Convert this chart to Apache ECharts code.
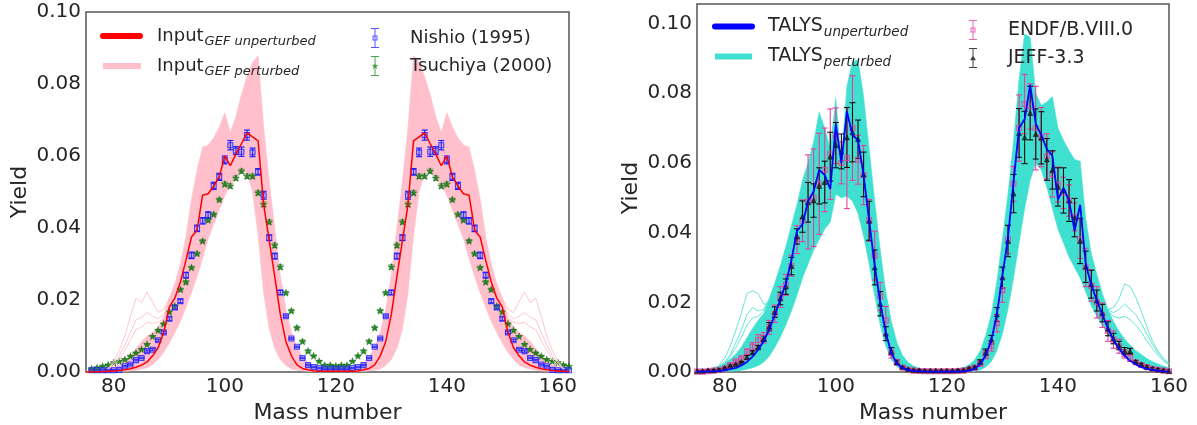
<!DOCTYPE html>
<html>
<head>
<meta charset="utf-8">
<script src="https://cdn.jsdelivr.net/npm/echarts@6.0.0/dist/echarts.min.js"></script>
<style>
html,body{margin:0;padding:0;background:#ffffff;}
#chart{width:1197px;height:425px;}
</style>
</head>
<body>
<div id="chart"></div>
<script>
// ===================== LEFT PANEL : GEF input vs experiments =====================
const massLeft = [75,76,77,78,79,80,81,82,83,84,85,86,87,88,89,90,91,92,93,94,95,96,97,98,99,100,101,102,103,104,105,106,107,108,109,110,111,112,113,114,115,116,117,118,119,120,121,122,123,124,125,126,127,128,129,130,131,132,133,134,135,136,137,138,139,140,141,142,143,144,145,146,147,148,149,150,151,152,153,154,155,156,157,158,159,160,161,162];

const gefUnperturbed = [
 0.0000,0.0000,0.0001,0.0001,0.0002,0.0003,0.0004,0.0006,0.0009,0.0013,
 0.0019,0.0028,0.0045,0.0068,0.0110,0.0180,0.0205,0.0250,0.0310,0.0375,
 0.0394,0.0491,0.0495,0.0516,0.0542,0.0600,0.0573,0.0605,0.0634,0.0664,
 0.0653,0.0642,0.0465,0.0365,0.0265,0.0160,0.0085,0.0045,0.0020,0.0010,
 0.0006,0.0003,0.0002,0.0002,0.0002,0.0002,
 0.0002,0.0002,0.0002,0.0003,0.0006,0.0010,0.0020,0.0045,0.0085,0.0160,
 0.0265,0.0365,0.0465,0.0642,0.0653,0.0664,0.0634,0.0605,0.0573,0.0600,
 0.0542,0.0516,0.0495,0.0491,0.0394,0.0375,0.0310,0.0250,0.0205,0.0180,
 0.0110,0.0068,0.0045,0.0028,0.0019,0.0013,0.0009,0.0006,0.0004,0.0003,
 0.0002,0.0001];

const gefBandUpper = [
 0.0002,0.0003,0.0005,0.0008,0.0011,0.0015,0.0020,0.0030,0.0045,0.0065,
 0.0085,0.0100,0.0110,0.0125,0.0150,0.0205,0.0245,0.0300,0.0375,0.0480,
 0.0560,0.0625,0.0630,0.0650,0.0680,0.0720,0.0665,0.0710,0.0770,0.0820,
 0.0860,0.0878,0.0680,0.0530,0.0400,0.0270,0.0175,0.0110,0.0068,0.0042,
 0.0026,0.0017,0.0012,0.0010,0.0009,0.0009,
 0.0009,0.0010,0.0012,0.0017,0.0026,0.0042,0.0068,0.0110,0.0175,0.0270,
 0.0400,0.0530,0.0680,0.0878,0.0860,0.0820,0.0770,0.0710,0.0665,0.0720,
 0.0680,0.0650,0.0630,0.0625,0.0560,0.0480,0.0375,0.0300,0.0245,0.0205,
 0.0150,0.0125,0.0110,0.0100,0.0085,0.0065,0.0045,0.0030,0.0020,0.0015,
 0.0011,0.0008];

const gefBandLower = [
 0.0000,0.0000,0.0000,0.0000,0.0000,0.0001,0.0001,0.0002,0.0003,0.0005,
 0.0008,0.0012,0.0020,0.0035,0.0055,0.0080,0.0110,0.0140,0.0180,0.0220,
 0.0265,0.0315,0.0370,0.0410,0.0450,0.0490,0.0520,0.0540,0.0555,0.0555,
 0.0500,0.0380,0.0220,0.0120,0.0065,0.0035,0.0018,0.0009,0.0005,0.0003,
 0.0002,0.0001,0.0001,0.0001,0.0001,0.0001,
 0.0001,0.0001,0.0001,0.0001,0.0002,0.0003,0.0005,0.0009,0.0018,0.0035,
 0.0065,0.0120,0.0220,0.0380,0.0500,0.0555,0.0555,0.0540,0.0520,0.0490,
 0.0450,0.0410,0.0370,0.0315,0.0265,0.0220,0.0180,0.0140,0.0110,0.0080,
 0.0055,0.0035,0.0020,0.0012,0.0008,0.0005,0.0003,0.0002,0.0001,0.0001,
 0.0000,0.0000];

const nishioYield = [
 null,  0.0005,0.0005,0.0005,0.0005,0.0005,0.0006,0.0016,0.0021,0.0033,
 0.0039,0.0058,0.0062,0.0088,0.0110,0.0148,0.0179,0.0197,0.0269,0.0324,
 0.0399,0.0420,0.0436,0.0517,0.0542,0.0589,0.0630,0.0615,0.0612,0.0658,
 0.0610,0.0556,0.0491,0.0373,0.0322,0.0221,0.0155,0.0093,0.0070,0.0039,
 0.0019,0.0014,0.0011,0.0009,0.0009,0.0009,
 0.0009,0.0009,0.0011,0.0014,0.0019,0.0039,0.0070,0.0093,0.0155,0.0221,
 0.0322,0.0373,0.0491,0.0556,0.0610,0.0658,0.0612,0.0615,0.0630,0.0589,
 0.0542,0.0517,0.0436,0.0420,0.0399,0.0324,0.0269,0.0197,0.0179,0.0148,
 0.0110,0.0088,0.0062,0.0058,0.0039,0.0033,0.0021,0.0016,0.0006,0.0005,
 0.0005,0.0005];

const nishioErr = [
 null,  0.0002,0.0002,0.0002,0.0002,0.0002,0.0002,0.0002,0.0002,0.0002,
 0.0002,0.0003,0.0003,0.0003,0.0003,0.0005,0.0005,0.0005,0.0008,0.0009,
 0.0009,0.0009,0.0009,0.0010,0.0010,0.0011,0.0013,0.0011,0.0013,0.0014,
 0.0012,0.0009,0.0011,0.0008,0.0008,0.0006,0.0003,0.0002,0.0002,0.0002,
 0.0002,0.0002,0.0002,0.0002,0.0002,0.0002,
 0.0002,0.0002,0.0002,0.0002,0.0002,0.0002,0.0002,0.0002,0.0003,0.0006,
 0.0008,0.0008,0.0011,0.0009,0.0012,0.0014,0.0013,0.0011,0.0013,0.0011,
 0.0010,0.0010,0.0009,0.0009,0.0009,0.0009,0.0008,0.0005,0.0005,0.0005,
 0.0003,0.0003,0.0003,0.0003,0.0002,0.0002,0.0002,0.0002,0.0002,0.0002,
 0.0002,0.0002];

const tsuchiyaYield = [
 null,  0.0009,0.0012,0.0016,0.0020,0.0026,0.0030,0.0035,0.0044,0.0053,
 0.0063,0.0077,0.0099,0.0116,0.0134,0.0167,0.0183,0.0229,0.0250,0.0290,
 0.0329,0.0364,0.0422,0.0438,0.0479,0.0522,0.0517,0.0539,0.0558,0.0544,
 0.0544,0.0498,0.0466,0.0417,0.0352,0.0292,0.0220,0.0170,0.0123,0.0085,
 0.0058,0.0045,0.0030,0.0019,0.0019,0.0017,
 0.0019,0.0019,0.0030,0.0045,0.0058,0.0085,0.0123,0.0170,0.0220,0.0292,
 0.0352,0.0417,0.0466,0.0498,0.0544,0.0544,0.0558,0.0539,0.0517,0.0522,
 0.0479,0.0438,0.0422,0.0364,0.0329,0.0290,0.0250,0.0229,0.0183,0.0167,
 0.0134,0.0116,0.0099,0.0077,0.0063,0.0053,0.0044,0.0035,0.0030,0.0026,
 0.0020,0.0016];

const tsuchiyaErr = [
 null,  0.0002,0.0002,0.0002,0.0002,0.0002,0.0002,0.0002,0.0002,0.0002,
 0.0002,0.0002,0.0002,0.0002,0.0002,0.0004,0.0004,0.0004,0.0004,0.0004,
 0.0004,0.0004,0.0004,0.0004,0.0004,0.0006,0.0006,0.0006,0.0006,0.0006,
 0.0006,0.0006,0.0006,0.0006,0.0006,0.0006,0.0004,0.0004,0.0004,0.0004,
 0.0004,0.0002,0.0002,0.0002,0.0002,0.0002,
 0.0002,0.0002,0.0002,0.0002,0.0004,0.0004,0.0004,0.0004,0.0004,0.0006,
 0.0006,0.0006,0.0006,0.0006,0.0006,0.0006,0.0006,0.0006,0.0006,0.0006,
 0.0004,0.0004,0.0004,0.0004,0.0004,0.0004,0.0004,0.0004,0.0004,0.0004,
 0.0002,0.0002,0.0002,0.0002,0.0002,0.0002,0.0002,0.0002,0.0002,0.0002,
 0.0002,0.0002];

// a few isolated perturbed GEF curves that stand out of the band in the tails
const gefOutlierMassA = [79,80,81,82,83,84,85,86,87,88,89,90];
const gefOutlierA1 = [0.0010,0.0030,0.0060,0.0100,0.0155,0.0205,0.0193,0.0222,0.0195,0.0165,0.0175,0.0205];
const gefOutlierA2 = [0.0008,0.0025,0.0045,0.0075,0.0110,0.0145,0.0152,0.0165,0.0155,0.0148,0.0160,0.0200];
const gefOutlierA3 = [0.0008,0.0020,0.0035,0.0060,0.0088,0.0118,0.0125,0.0138,0.0135,0.0138,0.0150,0.0195];
const gefOutlierMassB = [150,151,152,153,154,155,156,157,158,159,160,161];
const gefOutlierB1 = [0.0205,0.0175,0.0165,0.0195,0.0222,0.0193,0.0205,0.0155,0.0100,0.0060,0.0030,0.0010];
const gefOutlierB2 = [0.0200,0.0160,0.0148,0.0155,0.0165,0.0152,0.0145,0.0110,0.0075,0.0045,0.0025,0.0008];
const gefOutlierB3 = [0.0195,0.0150,0.0138,0.0135,0.0138,0.0125,0.0118,0.0088,0.0060,0.0035,0.0020,0.0008];

// ===================== RIGHT PANEL : TALYS vs evaluations =====================
const massRight = [75,76,77,78,79,80,81,82,83,84,85,86,87,88,89,90,91,92,93,94,95,96,97,98,99,100,101,102,103,104,105,106,107,108,109,110,111,112,113,114,115,116,117,118,119,120,121,122,123,124,125,126,127,128,129,130,131,132,133,134,135,136,137,138,139,140,141,142,143,144,145,146,147,148,149,150,151,152,153,154,155,156,157,158,159,160];

const talysUnperturbed = [
 0.0001,0.0001,0.0002,0.0002,0.0003,0.0005,0.0008,0.0012,0.0019,0.0029,
 0.0044,0.0063,0.0088,0.0122,0.0163,0.0208,0.0254,0.0320,0.0405,0.0424,
 0.0490,0.0518,0.0580,0.0565,0.0525,0.0710,0.0600,0.0748,0.0680,0.0665,
 0.0565,0.0435,0.0305,0.0200,0.0112,0.0055,0.0024,0.0012,0.0006,0.0003,
 0.0002,0.0002,0.0001,0.0001,0.0001,0.0001,0.0001,0.0002,0.0002,0.0004,
 0.0009,0.0022,0.0048,0.0090,0.0165,0.0275,0.0385,0.0545,0.0700,0.0725,
 0.0824,0.0712,0.0680,0.0640,0.0620,0.0495,0.0528,0.0492,0.0405,0.0480,
 0.0310,0.0250,0.0205,0.0165,0.0125,0.0092,0.0067,0.0047,0.0032,0.0022,
 0.0014,0.0009,0.0006,0.0004,0.0002,0.0001];

const talysBandUpper = [
 0.0003,0.0005,0.0008,0.0012,0.0018,0.0026,0.0037,0.0052,0.0072,0.0098,
 0.0125,0.0148,0.0168,0.0205,0.0255,0.0305,0.0360,0.0420,0.0480,0.0550,
 0.0600,0.0660,0.0745,0.0700,0.0640,0.0785,0.0600,0.0820,0.0890,0.0895,
 0.0790,0.0640,0.0490,0.0350,0.0230,0.0145,0.0085,0.0048,0.0028,0.0017,
 0.0011,0.0008,0.0007,0.0006,0.0006,0.0006,0.0007,0.0009,0.0013,0.0020,
 0.0035,0.0060,0.0105,0.0165,0.0260,0.0380,0.0510,0.0660,0.0840,0.0970,
 0.0960,0.0800,0.0765,0.0775,0.0790,0.0700,0.0665,0.0635,0.0610,0.0605,
 0.0440,0.0340,0.0280,0.0225,0.0180,0.0145,0.0118,0.0095,0.0077,0.0062,
 0.0050,0.0039,0.0030,0.0023,0.0017,0.0012];

const talysBandLower = [
 0.0000,0.0000,0.0000,0.0000,0.0001,0.0001,0.0002,0.0003,0.0005,0.0008,
 0.0012,0.0018,0.0028,0.0045,0.0070,0.0100,0.0135,0.0175,0.0220,0.0270,
 0.0310,0.0350,0.0380,0.0410,0.0430,0.0510,0.0500,0.0505,0.0490,0.0455,
 0.0390,0.0310,0.0220,0.0135,0.0075,0.0035,0.0015,0.0006,0.0002,0.0001,
 0.0001,0.0001,0.0001,0.0001,0.0001,0.0001,0.0001,0.0001,0.0001,0.0001,
 0.0002,0.0006,0.0014,0.0030,0.0060,0.0110,0.0180,0.0270,0.0370,0.0470,
 0.0550,0.0600,0.0580,0.0530,0.0470,0.0410,0.0370,0.0330,0.0300,0.0270,
 0.0230,0.0190,0.0160,0.0133,0.0110,0.0085,0.0065,0.0048,0.0036,0.0026,
 0.0018,0.0012,0.0008,0.0005,0.0003,0.0002];

const endfYield = [
 0.0001,0.0001,0.0002,0.0004,0.0006,0.0010,0.0020,0.0031,0.0040,0.0058,
 0.0072,0.0092,0.0098,0.0128,0.0167,0.0215,0.0250,0.0305,0.0380,0.0434,
 0.0488,0.0500,0.0540,0.0580,0.0625,0.0678,0.0600,0.0614,0.0700,0.0609,
 0.0565,0.0435,0.0334,0.0217,0.0148,0.0055,0.0028,0.0013,0.0007,0.0004,
 0.0003,0.0002,0.0002,0.0002,0.0002,0.0002,0.0002,0.0003,0.0004,0.0007,
 0.0012,0.0024,0.0050,0.0075,0.0140,0.0235,0.0380,0.0540,0.0700,0.0769,
 0.0762,0.0700,0.0674,0.0619,0.0567,0.0538,0.0514,0.0492,0.0445,0.0381,
 0.0300,0.0248,0.0200,0.0163,0.0118,0.0093,0.0074,0.0052,0.0040,0.0028,
 0.0020,0.0014,0.0009,0.0006,0.0004,0.0002];

const endfErr = [
 0.0003,0.0003,0.0003,0.0003,0.0003,0.0003,0.0003,0.0003,0.0003,0.0008,
 0.0012,0.0015,0.0015,0.0020,0.0025,0.0030,0.0030,0.0030,0.0040,0.0060,
 0.0135,0.0140,0.0145,0.0120,0.0130,0.0080,0.0060,0.0145,0.0150,0.0070,
 0.0085,0.0060,0.0070,0.0040,0.0040,0.0015,0.0008,0.0002,0.0002,0.0002,
 0.0002,0.0002,0.0002,0.0002,0.0002,0.0002,0.0002,0.0002,0.0002,0.0002,
 0.0004,0.0008,0.0012,0.0015,0.0025,0.0035,0.0040,0.0050,0.0095,0.0085,
 0.0065,0.0120,0.0085,0.0065,0.0065,0.0050,0.0045,0.0045,0.0040,0.0055,
 0.0055,0.0045,0.0045,0.0035,0.0030,0.0025,0.0020,0.0012,0.0010,0.0004,
 0.0004,0.0004,0.0004,0.0004,0.0004,0.0004];

const jeffYield = [
 0.0003,0.0003,0.0005,0.0005,0.0007,0.0012,0.0018,0.0022,0.0028,0.0042,
 0.0056,0.0071,0.0096,0.0130,0.0172,0.0211,0.0245,0.0304,0.0389,0.0446,
 0.0487,0.0492,0.0534,0.0545,0.0618,0.0651,0.0633,0.0673,0.0688,0.0668,
 0.0567,0.0434,0.0300,0.0196,0.0110,0.0060,0.0028,0.0014,0.0008,0.0006,
 0.0005,0.0004,0.0004,0.0004,0.0004,0.0004,0.0004,0.0005,0.0006,0.0011,
 0.0014,0.0029,0.0057,0.0093,0.0165,0.0271,0.0376,0.0512,0.0686,0.0673,
 0.0743,0.0683,0.0672,0.0610,0.0580,0.0531,0.0521,0.0492,0.0443,0.0376,
 0.0302,0.0252,0.0205,0.0169,0.0124,0.0096,0.0076,0.0060,0.0060,0.0030,
 0.0022,0.0015,0.0010,0.0007,0.0005,0.0003];

const jeffErr = [
 0.0002,0.0002,0.0002,0.0002,0.0002,0.0002,0.0002,0.0002,0.0002,0.0005,
 0.0005,0.0005,0.0008,0.0012,0.0015,0.0018,0.0022,0.0025,0.0022,0.0045,
 0.0057,0.0048,0.0052,0.0060,0.0070,0.0065,0.0050,0.0086,0.0085,0.0055,
 0.0064,0.0056,0.0050,0.0035,0.0020,0.0010,0.0006,0.0002,0.0002,0.0002,
 0.0002,0.0002,0.0002,0.0002,0.0002,0.0002,0.0002,0.0002,0.0002,0.0002,
 0.0003,0.0006,0.0009,0.0012,0.0020,0.0030,0.0045,0.0055,0.0070,0.0075,
 0.0077,0.0072,0.0075,0.0060,0.0055,0.0055,0.0065,0.0060,0.0055,0.0065,
 0.0045,0.0040,0.0030,0.0025,0.0020,0.0015,0.0012,0.0010,0.0008,0.0003,
 0.0003,0.0003,0.0003,0.0003,0.0003,0.0003];

const talysOutlierMassA = [79,80,81,82,83,84,85,86,87,88,89];
const talysOutlierA1 = [0.0020,0.0040,0.0075,0.0120,0.0170,0.0225,0.0233,0.0225,0.0195,0.0195,0.0240];
const talysOutlierA2 = [0.0015,0.0030,0.0050,0.0085,0.0120,0.0165,0.0185,0.0175,0.0180,0.0210,0.0250];
const talysOutlierA3 = [0.0012,0.0025,0.0045,0.0070,0.0100,0.0135,0.0155,0.0160,0.0175,0.0205,0.0250];
const talysOutlierMassB = [149,150,151,152,153,154,155,156,157,158,159,160];
const talysOutlierB1 = [0.0180,0.0185,0.0210,0.0253,0.0245,0.0215,0.0175,0.0130,0.0090,0.0060,0.0040,0.0025];
const talysOutlierB2 = [0.0180,0.0170,0.0180,0.0195,0.0180,0.0165,0.0140,0.0110,0.0080,0.0055,0.0035,0.0022];
const talysOutlierB3 = [0.0175,0.0160,0.0155,0.0160,0.0150,0.0135,0.0115,0.0090,0.0068,0.0048,0.0032,0.0020];

const yTicks = [0.00, 0.02, 0.04, 0.06, 0.08, 0.10];
const xTicks = [80, 100, 120, 140, 160];

// ===================== helpers =====================
const FONT = 'DejaVu Sans';
const TXT = '#262626';
const PINK = '#ffc0cb';
const CYAN = '#40e0d0';
const STAR = 'path://M0,-10L2.35,-3.24L9.51,-3.09L3.8,1.24L5.88,8.09L0,4L-5.88,8.09L-3.8,1.24L-9.51,-3.09L-2.35,-3.24Z';
const ICON_LINE_ROUND = 'path://M3,0H40A3,3 0 0 1 40,6H3A3,3 0 0 1 3,0Z';
const ICON_ERR_SQUARE = 'path://M0,0H8V1H0ZM3.5,1H4.5V19H3.5ZM0,19H8V20H0ZM1.5,7.5H6.5V12.5H1.5ZM2.5,8.5V11.5H5.5V8.5Z';
const ICON_ERR_STAR = 'path://M0,0H8V1H0ZM3.5,1H4.5V19H3.5ZM0,19H8V20H0ZM4,6.4L4.85,8.83L7.42,8.89L5.38,10.45L6.12,12.91L4,11.45L1.88,12.91L2.62,10.45L0.58,8.89L3.15,8.83Z';
const ICON_ERR_TRI = 'path://M0,0H8V1H0ZM3.5,1H4.5V19H3.5ZM0,19H8V20H0ZM4,7.2L6.9,12.3H1.1Z';

function pairs(xs, ys) {
  const out = [];
  for (let i = 0; i < xs.length; i++) if (ys[i] != null) out.push([xs[i], ys[i]]);
  return out;
}

function bandSeries(name, k, xs, lo, hi, color) {
  return {
    name, type: 'custom', xAxisIndex: k, yAxisIndex: k, clip: true, silent: true,
    itemStyle: { color },
    data: xs.map((x, i) => [x, lo[i], hi[i]]),
    encode: { x: 0, y: [1, 2] },
    renderItem(params, api) {
      if (params.dataIndex !== 0) return null;
      const pts = [];
      for (let i = 0; i < xs.length; i++) pts.push(api.coord([xs[i], hi[i]]));
      for (let i = xs.length - 1; i >= 0; i--) pts.push(api.coord([xs[i], lo[i]]));
      return { type: 'polygon', shape: { points: pts }, style: { fill: color, stroke: color, lineWidth: 0.6 } };
    }
  };
}

function errorSeries(name, k, xs, ys, es, color, cap, lw) {
  const data = [];
  for (let i = 0; i < xs.length; i++) if (ys[i] != null) data.push([xs[i], ys[i] - es[i], ys[i] + es[i]]);
  return {
    name, type: 'custom', xAxisIndex: k, yAxisIndex: k, clip: true, silent: true, data,
    encode: { x: 0, y: [1, 2] },
    renderItem(params, api) {
      const x = api.value(0);
      const a = api.coord([x, api.value(1)]);
      const b = api.coord([x, api.value(2)]);
      const st = { stroke: color, lineWidth: lw };
      return { type: 'group', children: [
        { type: 'line', shape: { x1: a[0], y1: a[1], x2: b[0], y2: b[1] }, style: st },
        { type: 'line', shape: { x1: a[0] - cap, y1: a[1], x2: a[0] + cap, y2: a[1] }, style: st },
        { type: 'line', shape: { x1: b[0] - cap, y1: b[1], x2: b[0] + cap, y2: b[1] }, style: st }
      ]};
    }
  };
}

function thinLine(name, k, xs, ys, color, w, op) {
  return { name, type: 'line', xAxisIndex: k, yAxisIndex: k, data: pairs(xs, ys), showSymbol: false, symbol: 'none',
    silent: true, clip: true, lineStyle: { color, width: w, opacity: op }, itemStyle: { color } };
}

function legendOne(name, left, top, icon, w, h, color, fmt, rich) {
  return {
    show: true, data: [{ name, icon }], left, top, orient: 'vertical', padding: 0,
    itemWidth: w, itemHeight: h, selectedMode: false,
    itemStyle: { color, borderWidth: 0 },
    formatter: fmt,
    textStyle: { color: TXT, fontFamily: FONT, rich }
  };
}

function xAxis(k, max) {
  return {
    type: 'value', gridIndex: k, min: 75, max, interval: 5,
    name: 'Mass number', nameLocation: 'middle', nameGap: 22,
    nameTextStyle: { fontFamily: FONT, fontSize: 22, color: TXT },
    axisLine: { show: false }, axisTick: { show: false }, splitLine: { show: false },
    axisLabel: {
      fontFamily: FONT, fontSize: 20, color: TXT, margin: 5,
      formatter: v => (xTicks.indexOf(Math.round(v)) >= 0 && Math.abs(v - Math.round(v)) < 1e-6) ? String(Math.round(v)) : ''
    }
  };
}

function yAxis(k, max) {
  return {
    type: 'value', gridIndex: k, min: 0, max, interval: 0.02,
    name: 'Yield', nameLocation: 'middle', nameGap: 55,
    nameTextStyle: { fontFamily: FONT, fontSize: 22, color: TXT },
    axisLine: { show: false }, axisTick: { show: false }, splitLine: { show: false },
    axisLabel: {
      fontFamily: FONT, fontSize: 20, color: TXT, margin: 5,
      formatter: v => { for (const t of yTicks) if (Math.abs(v - t) < 1e-6) return t.toFixed(2); return ''; }
    }
  };
}

const chart = echarts.init(document.getElementById('chart'), null, { renderer: 'canvas' });

const richL = {
  m: { fontFamily: FONT, fontSize: 18, color: TXT },
  s: { fontFamily: FONT, fontSize: 13, fontStyle: 'italic', color: TXT, padding: [11, 0, 0, 1] }
};
const richR = {
  m: { fontFamily: FONT, fontSize: 19, color: TXT },
  s: { fontFamily: FONT, fontSize: 13.5, fontStyle: 'italic', color: TXT, padding: [12, 0, 0, 1] }
};

const gridBase = { show: true, borderColor: '#555555', borderWidth: 1.5, backgroundColor: '#ffffff',
  containLabel: false, outerBoundsMode: 'none' };

const option = {
  animation: false,
  backgroundColor: '#ffffff',
  textStyle: { fontFamily: FONT },
  grid: [
    Object.assign({ left: 86, right: 628, top: 12, bottom: 53 }, gridBase),
    Object.assign({ left: 697, right: 28, top: 4, bottom: 53 }, gridBase)
  ],
  xAxis: [xAxis(0, 162), xAxis(1, 160)],
  yAxis: [yAxis(0, 0.1), yAxis(1, 0.1056)],
  legend: [
    legendOne('Input GEF unperturbed', 100, 27, ICON_LINE_ROUND, 43, 6, '#ff0000',
      '{m|Input}{s|GEF unperturbed}', Object.assign({}, richL, { m: Object.assign({}, richL.m, { padding: [0, 0, 0, 9] }) })),
    legendOne('Input GEF perturbed', 103, 57, 'rect', 38, 6, PINK,
      '{m|Input}{s|GEF perturbed}', Object.assign({}, richL, { m: Object.assign({}, richL.m, { padding: [0, 0, 0, 11] }) })),
    legendOne('Nishio (1995)', 371, 28, ICON_ERR_SQUARE, 8, 20, '#2b2bff',
      '{n|Nishio (1995)}', { n: { fontFamily: FONT, fontSize: 18, color: TXT, padding: [0, 0, 0, 26] } }),
    legendOne('Tsuchiya (2000)', 371, 56, ICON_ERR_STAR, 8, 20, '#1f8a1f',
      '{n|Tsuchiya (2000)}', { n: { fontFamily: FONT, fontSize: 18, color: TXT, padding: [0, 0, 0, 26] } }),
    legendOne('TALYS unperturbed', 712, 17, ICON_LINE_ROUND, 43, 6, '#0000ff',
      '{m|TALYS}{s|unperturbed}', Object.assign({}, richR, { m: Object.assign({}, richR.m, { padding: [0, 0, 0, 8] }) })),
    legendOne('TALYS perturbed', 715, 47, 'rect', 37, 6, CYAN,
      '{m|TALYS}{s|perturbed}', Object.assign({}, richR, { m: Object.assign({}, richR.m, { padding: [0, 0, 0, 11] }) })),
    legendOne('ENDF/B.VIII.0', 969, 20, ICON_ERR_SQUARE, 8, 20, '#e5409d',
      '{n|ENDF/B.VIII.0}', { n: { fontFamily: FONT, fontSize: 19, color: TXT, padding: [0, 0, 0, 26] } }),
    legendOne('JEFF-3.3', 969, 48, ICON_ERR_TRI, 8, 20, '#111111',
      '{n|JEFF-3.3}', { n: { fontFamily: FONT, fontSize: 19, color: TXT, padding: [0, 0, 0, 26] } })
  ],
  series: [
    // ---- left panel
    bandSeries('Input GEF perturbed', 0, massLeft, gefBandLower, gefBandUpper, PINK),
    thinLine('gef outlier a1', 0, gefOutlierMassA, gefOutlierA1, PINK, 1, 0.9),
    thinLine('gef outlier a2', 0, gefOutlierMassA, gefOutlierA2, PINK, 1, 0.9),
    thinLine('gef outlier a3', 0, gefOutlierMassA, gefOutlierA3, PINK, 1, 0.9),
    thinLine('gef outlier b1', 0, gefOutlierMassB, gefOutlierB1, PINK, 1, 0.9),
    thinLine('gef outlier b2', 0, gefOutlierMassB, gefOutlierB2, PINK, 1, 0.9),
    thinLine('gef outlier b3', 0, gefOutlierMassB, gefOutlierB3, PINK, 1, 0.9),
    { name: 'Input GEF unperturbed', type: 'line', xAxisIndex: 0, yAxisIndex: 0, data: pairs(massLeft, gefUnperturbed),
      showSymbol: false, symbol: 'none', clip: true, lineStyle: { color: '#ff0000', width: 1.5 }, itemStyle: { color: '#ff0000' } },
    errorSeries('Tsuchiya err', 0, massLeft, tsuchiyaYield, tsuchiyaErr, 'rgba(40,140,40,0.55)', 3, 1.2),
    { name: 'Tsuchiya (2000)', type: 'scatter', xAxisIndex: 0, yAxisIndex: 0, data: pairs(massLeft, tsuchiyaYield),
      symbol: STAR, symbolSize: 7, itemStyle: { color: '#0a7a0a', borderColor: '#0a5a0a', borderWidth: 0.5 } },
    errorSeries('Nishio err', 0, massLeft, nishioYield, nishioErr, '#1f1fff', 3, 1.2),
    { name: 'Nishio (1995)', type: 'scatter', xAxisIndex: 0, yAxisIndex: 0, data: pairs(massLeft, nishioYield),
      symbol: 'rect', symbolSize: 5, itemStyle: { color: 'rgba(120,120,255,0.35)', borderColor: '#1f1fff', borderWidth: 1.1 } },
    // ---- right panel
    bandSeries('TALYS perturbed', 1, massRight, talysBandLower, talysBandUpper, CYAN),
    thinLine('talys outlier a1', 1, talysOutlierMassA, talysOutlierA1, CYAN, 1, 0.8),
    thinLine('talys outlier a2', 1, talysOutlierMassA, talysOutlierA2, CYAN, 1, 0.8),
    thinLine('talys outlier a3', 1, talysOutlierMassA, talysOutlierA3, CYAN, 1, 0.8),
    thinLine('talys outlier b1', 1, talysOutlierMassB, talysOutlierB1, CYAN, 1, 0.8),
    thinLine('talys outlier b2', 1, talysOutlierMassB, talysOutlierB2, CYAN, 1, 0.8),
    thinLine('talys outlier b3', 1, talysOutlierMassB, talysOutlierB3, CYAN, 1, 0.8),
    { name: 'TALYS unperturbed', type: 'line', xAxisIndex: 1, yAxisIndex: 1, data: pairs(massRight, talysUnperturbed),
      showSymbol: false, symbol: 'none', clip: true, lineStyle: { color: '#0000ff', width: 1.8 }, itemStyle: { color: '#0000ff' } },
    errorSeries('ENDF err', 1, massRight, endfYield, endfErr, '#e5409d', 3, 1.1),
    { name: 'ENDF/B.VIII.0', type: 'scatter', xAxisIndex: 1, yAxisIndex: 1, data: pairs(massRight, endfYield),
      symbol: 'rect', symbolSize: 5, itemStyle: { color: 'rgba(229,64,157,0.25)', borderColor: '#e5409d', borderWidth: 1.1 } },
    errorSeries('JEFF err', 1, massRight, jeffYield, jeffErr, '#111111', 3, 1.1),
    { name: 'JEFF-3.3', type: 'scatter', xAxisIndex: 1, yAxisIndex: 1, data: pairs(massRight, jeffYield),
      symbol: 'triangle', symbolSize: 5, itemStyle: { color: '#222222', borderColor: '#000000', borderWidth: 0.6 } }
  ]
};

chart.setOption(option);
</script>
</body>
</html>
